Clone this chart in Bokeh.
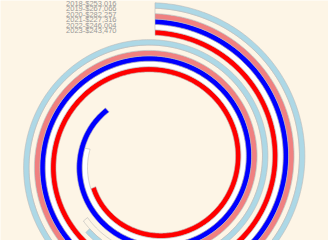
import numpy as np
from bokeh.plotting import figure
from bokeh.models import ColumnDataSource, Range1d
from bokeh.core.properties import value
from bokeh.embed import file_html
from bokeh.resources import INLINE

# ---- data ----
years = ["2018", "2019", "2020", "2021", "2022", "2023"]
sales = [253016, 267066, 282257, 227316, 246004, 243470]
colors = ["red", "white", "blue", "lightcoral", "oldlace", "lightblue"]

# ---- spiral geometry (data units = pixels) ----
PER_REV = 150000.0     # dollars per full turn
R0 = 159.0             # outer radius of outermost band at start
PITCH = 5.4            # band pitch
SHRINK = 37.0          # radius lost per turn
CX, CY = 154.5, 161.3  # centre position in the window

xs, ys = [], []
n = len(years)
for i, v in enumerate(sales):
    th = np.linspace(0, 2 * np.pi * v / PER_REV, 600)
    r_out = R0 - (n - 1 - i) * PITCH - SHRINK * th / (2 * np.pi)
    r_in = r_out - PITCH
    x = np.concatenate([r_out * np.sin(th), (r_in * np.sin(th))[::-1]])
    y = np.concatenate([r_out * np.cos(th), (r_in * np.cos(th))[::-1]])
    xs.append(x.tolist())
    ys.append(y.tolist())

src = ColumnDataSource(dict(xs=xs, ys=ys, color=colors))

labels = [f"{y}-${s:,}" for y, s in zip(years, sales)]
lab_y = [R0 - j * PITCH - PITCH / 2 + 2 for j in range(n)]
lab_src = ColumnDataSource(dict(x=[-38.5] * n, y=lab_y, text=labels))

p = figure(width=328, height=240, output_backend="svg", toolbar_location=None,
           x_range=Range1d(-CX, 328 - CX), y_range=Range1d(CY - 240, CY),
           min_border=0, outline_line_color=None,
           background_fill_color="#fdf5e6", border_fill_color="#fdf5e6")
p.axis.visible = False
p.grid.visible = False

p.patches("xs", "ys", source=src, fill_color="color", line_color="#bbbbbb",
          line_width=0.6)

p.text("x", "y", text="text", source=lab_src, text_align="right",
       text_baseline="middle", text_font_size="7.5px", text_color="#999999",
       text_font=value("Liberation Sans"))

open("out.html", "w").write(file_html(p, INLINE))
